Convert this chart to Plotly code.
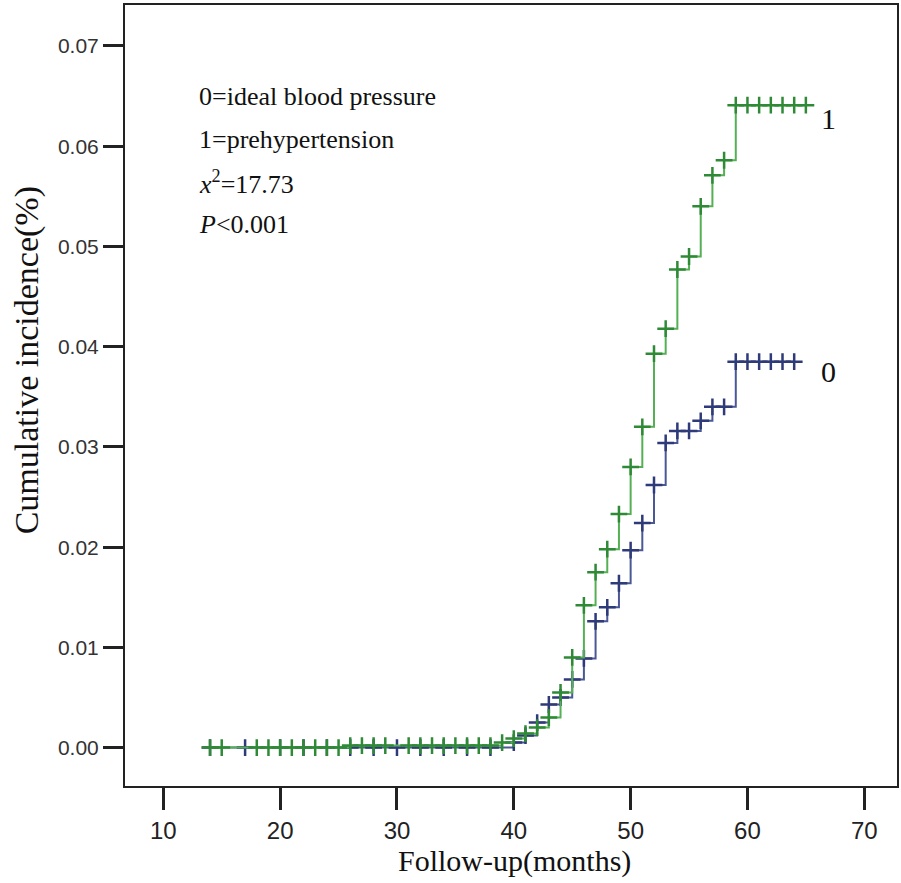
import plotly.graph_objects as go

# ---- Data ----
# Group 0 = ideal blood pressure (blue); step curve
times_0 = [14, 40, 41, 42, 43, 44, 45, 46, 47, 48, 49, 50, 51, 52, 53, 54, 56, 57, 59, 64]
inc_0 = [0.0, 0.0005, 0.0012, 0.0025, 0.0043, 0.0050, 0.0068, 0.0089, 0.0126, 0.0140,
         0.0164, 0.0197, 0.0224, 0.0262, 0.0304, 0.0316, 0.0326, 0.0340, 0.0385, 0.0385]
cens_t_0 = [14, 17, 20, 22, 24, 26, 28, 30, 32, 34, 36, 38, 40, 41, 42, 43, 44, 45, 46, 47,
            48, 49, 50, 51, 52, 53, 54, 55, 56, 57, 58, 59, 60, 61, 62, 63, 64]
cens_y_0 = [0, 0, 0, 0, 0, 0, 0, 0, 0, 0, 0, 0, 0.0005, 0.0012, 0.0025, 0.0043, 0.0050,
            0.0068, 0.0089, 0.0126, 0.0140, 0.0164, 0.0197, 0.0224, 0.0262, 0.0304, 0.0316,
            0.0316, 0.0326, 0.0340, 0.0340, 0.0385, 0.0385, 0.0385, 0.0385, 0.0385, 0.0385]

# Group 1 = prehypertension (green); step curve
times_1 = [14, 26, 39, 40, 41, 42, 43, 44, 45, 46, 47, 48, 49, 50, 51, 52, 53, 54, 55, 56,
           57, 58, 59, 65]
inc_1 = [0.0, 0.0002, 0.0005, 0.0009, 0.0014, 0.0020, 0.0030, 0.0055, 0.0090, 0.0142,
         0.0175, 0.0198, 0.0233, 0.0280, 0.0320, 0.0393, 0.0418, 0.0477, 0.0490, 0.0540,
         0.0571, 0.0586, 0.0641, 0.0641]
cens_t_1 = [14, 15, 18, 19, 20, 21, 22, 23, 24, 25, 26, 27, 28, 29, 31, 32, 33, 34, 35, 36,
            37, 38, 39, 40, 41, 42, 43, 44, 45, 46, 47, 48, 49, 50, 51, 52, 53, 54, 55, 56,
            57, 58, 59, 60, 61, 62, 63, 64, 65]
cens_y_1 = [0, 0, 0, 0, 0, 0, 0, 0, 0, 0, 0.0002, 0.0002, 0.0002, 0.0002, 0.0002, 0.0002,
            0.0002, 0.0002, 0.0002, 0.0002, 0.0002, 0.0002, 0.0005, 0.0009, 0.0014, 0.0020,
            0.0030, 0.0055, 0.0090, 0.0142, 0.0175, 0.0198, 0.0233, 0.0280, 0.0320, 0.0393,
            0.0418, 0.0477, 0.0490, 0.0540, 0.0571, 0.0586, 0.0641, 0.0641, 0.0641, 0.0641,
            0.0641, 0.0641, 0.0641]

x_ticks = [10, 20, 30, 40, 50, 60, 70]
y_ticks = [0.00, 0.01, 0.02, 0.03, 0.04, 0.05, 0.06, 0.07]

group_labels = ["0", "1"]
stat_lines = ["0=ideal blood pressure", "1=prehypertension",
              "<i>x</i><sup>2</sup>=17.73", "<i>P</i>&lt;0.001"]
x_title = "Follow-up(months)"
y_title = "Cumulative incidence(%)"

BLUE_LINE = "#4a5896"
BLUE_MARK = "#2f3a78"
GREEN_LINE = "#55b055"
GREEN_MARK = "#2f8a36"

fig = go.Figure()

fig.add_trace(go.Scatter(x=times_0, y=inc_0, mode="lines", line=dict(color=BLUE_LINE, width=2, shape="hv"),
                         showlegend=False, hoverinfo="skip"))
fig.add_trace(go.Scatter(x=cens_t_0, y=cens_y_0, mode="markers",
                         marker=dict(symbol="cross-thin", size=12, line=dict(color=BLUE_MARK, width=2.5)),
                         showlegend=False))
fig.add_trace(go.Scatter(x=times_1, y=inc_1, mode="lines", line=dict(color=GREEN_LINE, width=2, shape="hv"),
                         showlegend=False, hoverinfo="skip"))
fig.add_trace(go.Scatter(x=cens_t_1, y=cens_y_1, mode="markers",
                         marker=dict(symbol="cross-thin", size=12, line=dict(color=GREEN_MARK, width=2.5)),
                         showlegend=False))

serif = "Liberation Serif, Times New Roman, serif"

# stats text block
for txt, yy in zip(stat_lines, [0.0650, 0.0607, 0.0564, 0.0522]):
    fig.add_annotation(x=12.9, y=yy, xref="x", yref="y", text=txt, showarrow=False,
                       xanchor="left", yanchor="middle",
                       font=dict(family=serif, size=26, color="#111"))

# group labels at curve ends
fig.add_annotation(x=66.9, y=0.0375, text=group_labels[0], showarrow=False,
                   xanchor="center", yanchor="middle", font=dict(family=serif, size=30, color="#111"))
fig.add_annotation(x=66.9, y=0.0628, text=group_labels[1], showarrow=False,
                   xanchor="center", yanchor="middle", font=dict(family=serif, size=30, color="#111"))

# axis titles as annotations (precise placement)
fig.add_annotation(x=0.505, y=0, xref="paper", yref="paper", text=x_title, showarrow=False,
                   xanchor="center", yanchor="middle", yshift=-75,
                   font=dict(family=serif, size=30, color="#111"))
fig.add_annotation(x=0, y=0.545, xref="paper", yref="paper", text=y_title, showarrow=False,
                   xanchor="center", yanchor="middle", xshift=-98, textangle=-90,
                   font=dict(family=serif, size=34, color="#111"))

fig.update_layout(
    width=901, height=883,
    margin=dict(l=125, r=4, t=5, b=97),
    paper_bgcolor="white", plot_bgcolor="white",
    xaxis=dict(range=[6.72, 72.8], tickmode="array", tickvals=x_ticks, automargin=False,
               ticks="outside", ticklen=22, tickwidth=2.5, tickcolor="#222",
               showline=True, linewidth=2, linecolor="#222", mirror=True,
               showgrid=False, zeroline=False,
               tickfont=dict(family="Liberation Sans Narrow, Arial Narrow, Liberation Sans", size=24, color="#222")),
    yaxis=dict(range=[-0.00383, 0.07409], tickmode="array", tickvals=y_ticks, tickformat=".2f",
               automargin=False,
               ticks="outside", ticklen=20, tickwidth=2.5, tickcolor="#222",
               showline=True, linewidth=2, linecolor="#222", mirror=True,
               showgrid=False, zeroline=False,
               tickfont=dict(family="Liberation Sans, Arial", size=21, color="#333")),
)

fig.write_html("out.html", config={"displayModeBar": False},
               post_script="document.body.style.margin='0';document.body.style.overflow='hidden';")
